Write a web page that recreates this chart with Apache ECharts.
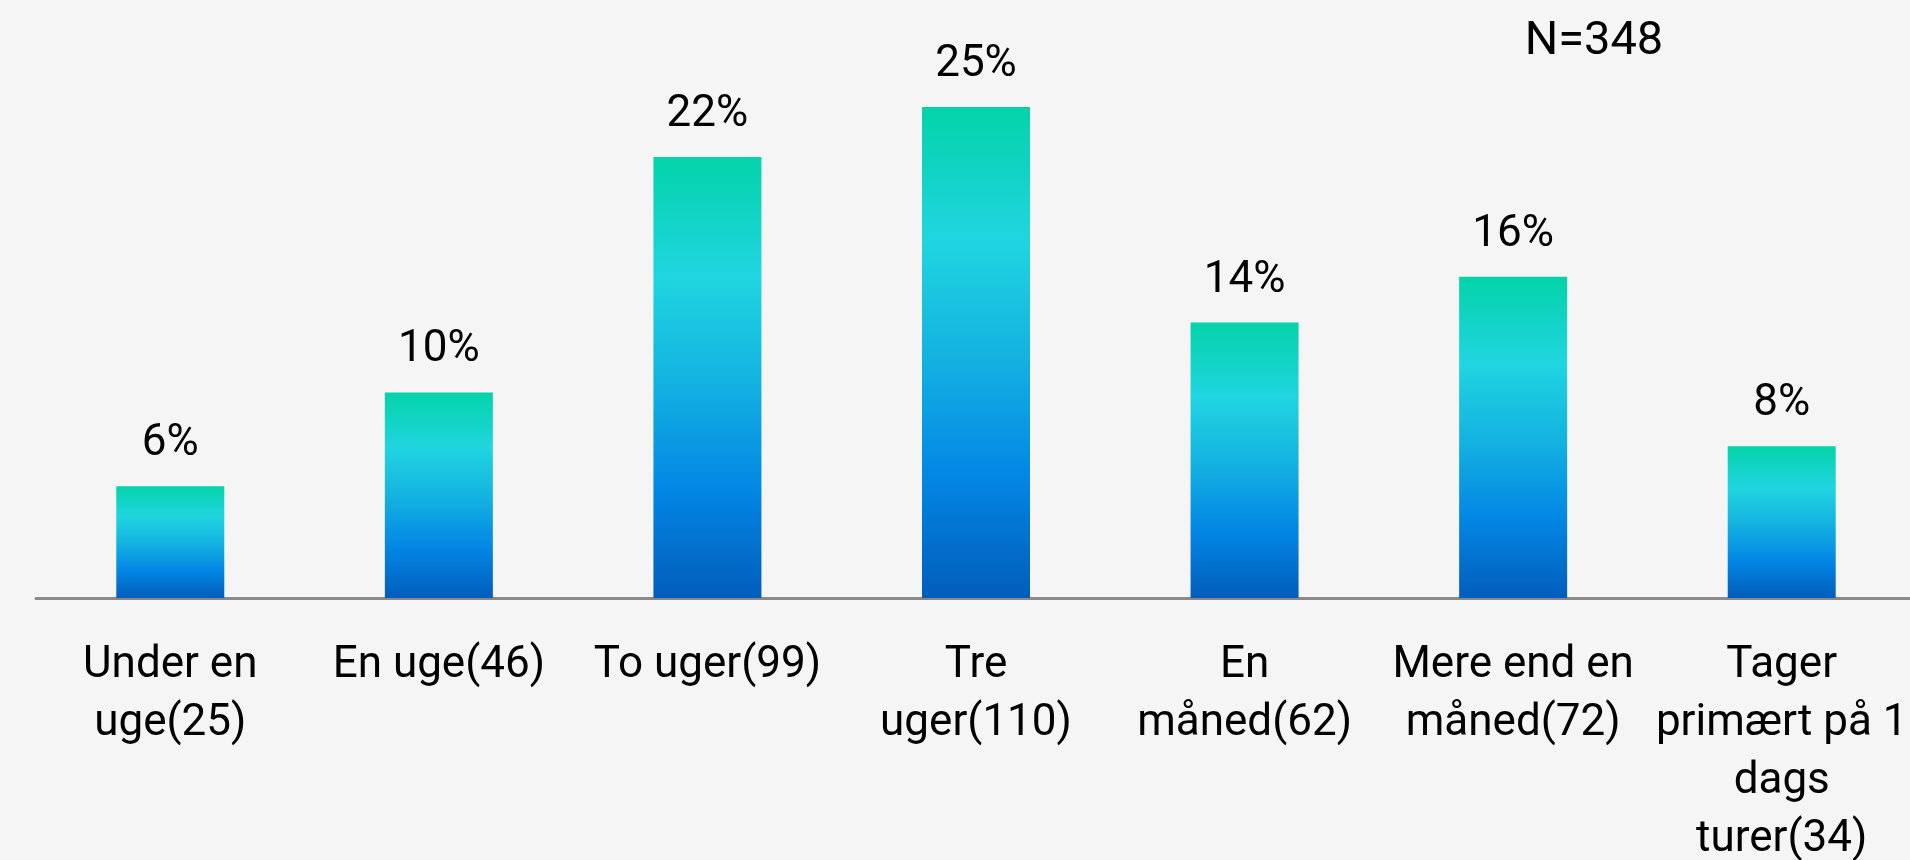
<!DOCTYPE html>
<html>
<head>
<meta charset="utf-8">
<script src="https://cdn.jsdelivr.net/npm/echarts@6/dist/echarts.min.js"></script>
<style>
html,body{margin:0;padding:0;background:#f5f5f5;}
#chart{width:1910px;height:860px;}
</style>
</head>
<body>
<div id="chart"></div>
<script>
const categories = ["Under en\nuge(25)", "En uge(46)", "To uger(99)", "Tre\nuger(110)", "En\nmåned(62)", "Mere end en\nmåned(72)", "Tager\nprimært på 1\ndags\nturer(34)"];
const values = [5.6, 10.3, 22.1, 24.6, 13.8, 16.1, 7.6];
const valueLabels = ["6%", "10%", "22%", "25%", "14%", "16%", "8%"];
const noteText = "N=348";

const chart = echarts.init(document.getElementById('chart'), null, {renderer: 'canvas'});
const grad = new echarts.graphic.LinearGradient(0, 0, 0, 1, [
  {offset: 0, color: '#03d3a9'},
  {offset: 0.27, color: '#20d5e0'},
  {offset: 0.5, color: '#14b4e0'},
  {offset: 0.75, color: '#0387e5'},
  {offset: 1, color: '#025dbb'}
]);
chart.setOption({
  backgroundColor: '#f5f5f5',
  animation: false,
  textStyle: {fontFamily: 'Roboto'},
  grid: {left: 36, top: 99, height: 499, width: 1880, containLabel: false, outerBoundsMode: 'none'},
  graphic: [{
    type: 'text', x: 1594, y: 42,
    style: {text: noteText, font: '47px Roboto', fill: '#000', textAlign: 'center', textVerticalAlign: 'middle'}
  }],
  xAxis: {
    type: 'category', data: categories,
    axisLine: {lineStyle: {color: '#8a8a8a', width: 3}},
    axisTick: {show: false},
    axisLabel: {color: '#000', fontSize: 44, lineHeight: 58, margin: 39, interval: 0, fontFamily: 'Roboto'}
  },
  yAxis: {type: 'value', min: 0, max: 25, show: false, splitLine: {show: false}},
  series: [{
    type: 'bar', data: values, barWidth: 108,
    itemStyle: {color: grad},
    label: {
      show: true, position: 'top', distance: 20, color: '#000', fontSize: 44, lineHeight: 44, fontFamily: 'Roboto',
      formatter: p => valueLabels[p.dataIndex]
    }
  }]
});
</script>
</body>
</html>
